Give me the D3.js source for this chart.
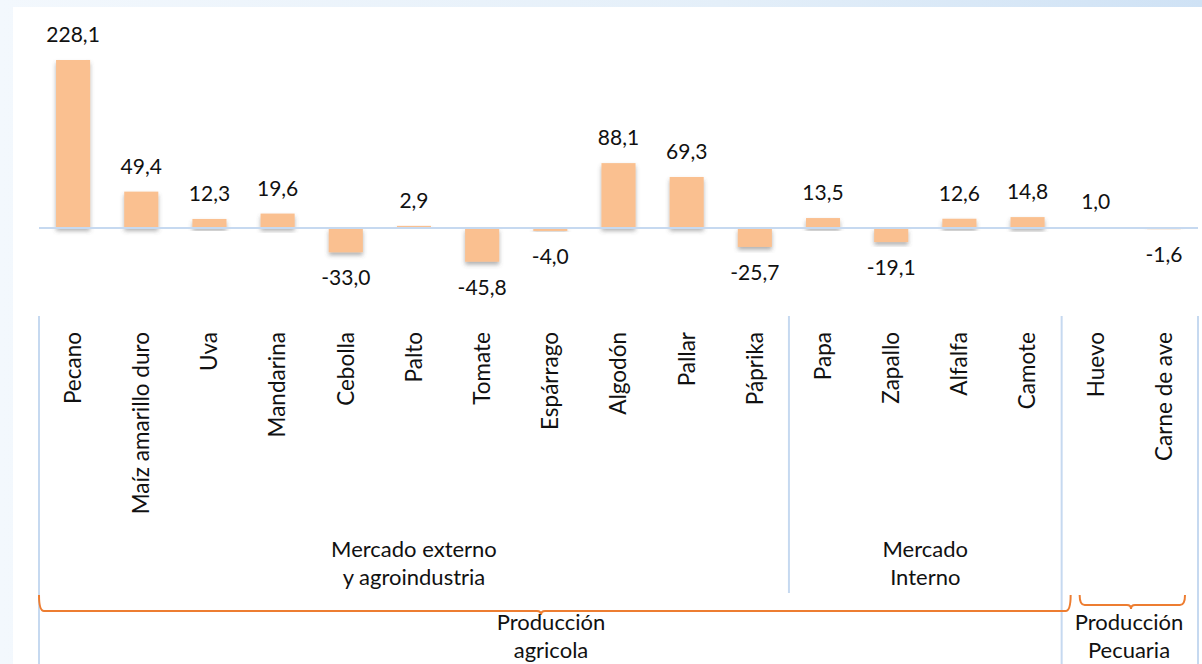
<!DOCTYPE html>
<html>
<head>
<meta charset="utf-8">
<script src="https://cdn.jsdelivr.net/npm/d3@7"></script>
<style>
  body { margin: 0; background: linear-gradient(90deg, #f3f8fd 0%, #e4eff9 60%, #cfe2f5 100%); }
  svg { display: block; }
  text { font-family: Lato, "Noto Sans", sans-serif; fill: #111; }
</style>
</head>
<body>
<script>
let categories = ['Pecano', 'Maíz amarillo duro', 'Uva', 'Mandarina', 'Cebolla', 'Palto', 'Tomate',
  'Espárrago', 'Algodón', 'Pallar', 'Páprika', 'Papa', 'Zapallo', 'Alfalfa', 'Camote', 'Huevo', 'Carne de ave']
let values = [228.1, 49.4, 12.3, 19.6, -33.0, 2.9, -45.8, -4.0, 88.1, 69.3, -25.7, 13.5, -19.1, 12.6, 14.8, 1.0, -1.6]

// market groups (index ranges into categories)
let markets = [
  { lines: ['Mercado externo', 'y agroindustria'], from: 0, to: 11 },
  { lines: ['Mercado', 'Interno'], from: 11, to: 15 }
]
let sectors = [
  { lines: ['Producción', 'agricola'], from: 0, to: 15 },
  { lines: ['Producción', 'Pecuaria'], from: 15, to: 17 }
]

let data = categories.map((c, i) => ({ name: c, value: values[i] }))

width = 1202
height = 664

let svg = d3.select('body')
  .append('svg')
  .attr('width', width)
  .attr('height', height)

let defs = svg.append('defs')
defs.append('filter')
  .attr('id', 'shadow')
  .attr('x', '-30%').attr('y', '-30%').attr('width', '160%').attr('height', '160%')
  .append('feDropShadow')
    .attr('dx', 0)
    .attr('dy', 3)
    .attr('stdDeviation', 2.2)
    .attr('flood-color', '#555')
    .attr('flood-opacity', 0.45)

// white chart area
svg.append('rect')
  .attr('x', 13)
  .attr('y', 7)
  .attr('width', width - 13)
  .attr('height', height - 7)
  .attr('fill', 'white')

let x = d3.scaleBand()
  .domain(categories)
  .range([39, 1198])
  .paddingInner(0.5)
  .paddingOuter(0.25)

let y = d3.scaleLinear()
  .domain([0, 228.1])
  .range([228, 60])

let step = x.step()
let edge = i => x.range()[0] + i * step
let fmt = v => d3.format('.1f')(v).replace('.', ',').replace('\u2212', '-')

// bars
svg.append('g')
  .selectAll('rect')
  .data(data)
  .join('rect')
    .attr('x', d => x(d.name))
    .attr('y', d => y(Math.max(0, d.value)))
    .attr('width', x.bandwidth())
    .attr('height', d => Math.abs(y(d.value) - y(0)))
    .attr('fill', '#fac090')
    .attr('filter', 'url(#shadow)')

// zero line
svg.append('line')
  .attr('x1', 39)
  .attr('x2', 1198)
  .attr('y1', y(0))
  .attr('y2', y(0))
  .attr('stroke', '#c6d9f0')
  .attr('stroke-width', 2)

// value labels
svg.append('g')
  .selectAll('text')
  .data(data)
  .join('text')
    .attr('x', d => x(d.name) + x.bandwidth() / 2)
    .attr('y', d => d.value >= 0 ? y(d.value) - 18 : y(d.value) + 33)
    .attr('text-anchor', 'middle')
    .attr('font-size', 21)
    .text(d => fmt(d.value))

// category labels
svg.append('g')
  .selectAll('text')
  .data(data)
  .join('text')
    .attr('transform', d => `translate(${x(d.name) + x.bandwidth() / 2},332) rotate(-90)`)
    .attr('dy', '0.35em')
    .attr('text-anchor', 'end')
    .attr('font-size', 22.5)
    .text(d => d.name)

// separators
let seps = [
  { i: 0, bottom: 664 },
  { i: 11, bottom: 593 },
  { i: 15, bottom: 664 },
  { i: 17, bottom: 664 }
]
svg.append('g')
  .selectAll('line')
  .data(seps)
  .join('line')
    .attr('x1', d => edge(d.i))
    .attr('x2', d => edge(d.i))
    .attr('y1', 316)
    .attr('y2', d => d.bottom)
    .attr('stroke', '#c6d9f0')
    .attr('stroke-width', 2)

// market labels
markets.forEach(m => {
  let cx = (edge(m.from) + edge(m.to)) / 2
  m.lines.forEach((t, k) => {
    svg.append('text')
      .attr('x', cx)
      .attr('y', 557 + k * 28)
      .attr('text-anchor', 'middle')
      .attr('font-size', 22)
      .text(t)
  })
})

// braces
function brace(x1, x2, xm, top, base) {
  return `M${x1},${top} Q${x1},${base} ${x1 + 5},${base} L${xm - 4},${base} Q${xm},${base} ${xm},${base + 4}` +
    ` Q${xm},${base} ${xm + 4},${base} L${x2 - 5},${base} Q${x2},${base} ${x2},${top}`
}
let braces = [
  { x1: edge(0), x2: edge(15) + 9, xm: 541, base: 611 },
  { x1: edge(15) + 18, x2: edge(17) - 13, xm: 1131, base: 605 }
]
svg.append('g')
  .selectAll('path')
  .data(braces)
  .join('path')
    .attr('d', d => brace(d.x1, d.x2, d.xm, 595, d.base))
    .attr('fill', 'none')
    .attr('stroke', '#ed7d31')
    .attr('stroke-width', 2)

let sectorCenters = [551, 1129]
sectors.forEach((s, j) => {
  s.lines.forEach((t, k) => {
    svg.append('text')
      .attr('x', sectorCenters[j])
      .attr('y', 630 + k * 28)
      .attr('text-anchor', 'middle')
      .attr('font-size', 22)
      .text(t)
  })
})
</script>
</body>
</html>
